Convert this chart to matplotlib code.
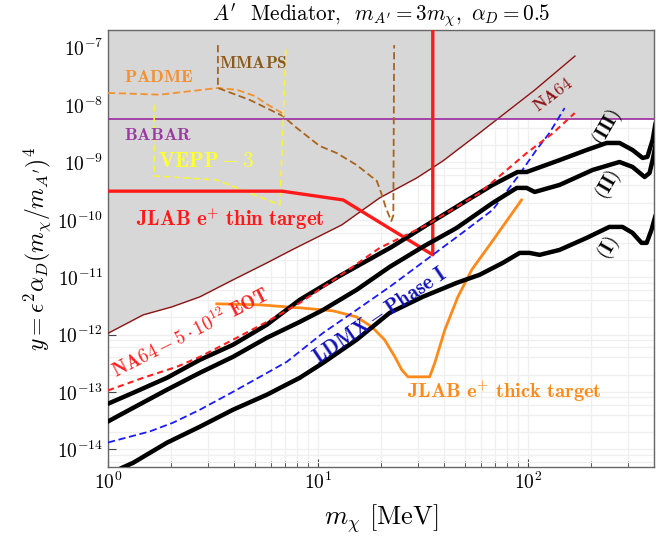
import numpy as np
import matplotlib
matplotlib.use("Agg")
import matplotlib.pyplot as plt
from matplotlib.ticker import LogLocator, NullFormatter

plt.rcParams['mathtext.fontset'] = 'cm'
plt.rcParams['font.family'] = 'serif'
plt.rcParams['font.serif'] = ['cmr10', 'DejaVu Serif']
plt.rcParams['axes.formatter.use_mathtext'] = True

# m_chi [MeV] and y values
na64_m = [1.0, 1.47, 2.02, 2.74, 3.94, 5.71, 7.52, 13.0, 19.7, 29.6, 39.4, 59.0, 108, 168]
na64_y = [1.05e-12, 2.20e-12, 3.04e-12, 4.54e-12, 8.97e-12, 1.77e-11, 2.99e-11, 8.15e-11,
          2.41e-10, 5.37e-10, 1.06e-9, 3.27e-9, 1.83e-8, 7.16e-8]

babar_m = [1.0, 400]
babar_y = [5.7e-9, 5.7e-9]

padme_m = [1.0, 1.77, 3.34, 4.11, 5.01, 5.71, 6.75]
padme_y = [1.63e-8, 1.52e-8, 1.99e-8, 1.85e-8, 1.44e-8, 1.04e-8, 7.28e-9]

mmaps_m = [3.34, 3.34, 4.74, 6.81, 7.94, 10.2, 12.3, 15.3, 19.1, 20.2, 21.1, 22.4, 22.9, 23.1]
mmaps_y = [1.11e-7, 1.99e-8, 1.23e-8, 6.46e-9, 3.99e-9, 1.94e-9, 1.46e-9, 9.04e-10,
           4.76e-10, 2.72e-10, 1.61e-10, 9.5e-11, 1.2e-10, 1.11e-7]

vepp_m = [1.66, 1.66, 3.30, 6.59, 7.05]
vepp_y = [1.0e-8, 5.82e-10, 4.95e-10, 1.82e-10, 9.89e-8]

thin_m = [1.0, 6.75, 13.2, 35.3, 35.3]
thin_y = [3.16e-10, 3.16e-10, 2.22e-10, 2.45e-11, 3e-7]

thick_m = [3.30, 5.30, 8.20, 11.8, 15.3, 18.1, 20.8, 23.3, 25.1, 26.9, 34.1, 36.1, 40.3,
           46.5, 54.1, 65.9, 93.5]
thick_y = [3.43e-12, 3.29e-12, 2.92e-12, 2.59e-12, 2.03e-12, 1.36e-12, 8.09e-13, 4.08e-13,
           2.43e-13, 1.83e-13, 1.83e-13, 3.21e-13, 1.21e-12, 4.54e-12, 1.34e-11, 3.65e-11, 2.22e-10]

eot_m = [1.0, 1.47, 2.13, 2.74, 3.94, 5.71, 8.20, 12.7, 19.7, 33.0, 59.0, 98.9, 132, 167.5]
eot_y = [1.06e-13, 1.76e-13, 2.74e-13, 4.08e-13, 8.09e-13, 1.66e-12, 3.56e-12, 1.05e-11,
         3.23e-11, 8.13e-11, 2.93e-10, 1.46e-9, 3.25e-9, 7.26e-9]

ldmx_m = [1.0, 1.58, 2.04, 2.74, 3.94, 5.30, 7.11, 10.6, 15.3, 22.0, 35.3, 47.4, 68.1,
          89.5, 110, 127, 150]
ldmx_y = [1.31e-14, 2.04e-14, 2.90e-14, 4.88e-14, 1.0e-13, 1.83e-13, 3.34e-13, 1.07e-12,
          2.69e-12, 6.78e-12, 2.45e-11, 5.46e-11, 1.49e-10, 5.58e-10, 1.65e-9, 3.27e-9, 8.89e-9]

c3_m = [1.0, 1.32, 1.91, 2.74, 3.94, 5.71, 8.20, 12.7, 22.5, 34.9, 51.8, 68.1, 89.5, 98.9,
        142, 191, 238, 274, 316, 353, 372, 394, 407]
c3_y = [6.21e-14, 9.66e-14, 1.76e-13, 3.62e-13, 6.62e-13, 1.48e-12, 4.03e-12, 1.05e-11,
        3.37e-11, 9.20e-11, 2.22e-10, 4.06e-10, 6.82e-10, 6.82e-10, 1.10e-9, 1.65e-9,
        2.19e-9, 2.19e-9, 1.65e-9, 1.20e-9, 1.25e-9, 2.47e-9, 4.88e-9]

c2_m = [1.0, 1.32, 1.91, 2.74, 3.94, 5.71, 8.20, 10.6, 15.3, 22.0, 31.6, 45.9, 68.1, 88.7,
        98.9, 108, 142, 204, 274, 316, 361, 381, 394, 407]
c2_y = [3.05e-14, 5.28e-14, 1.09e-13, 2.15e-13, 4.08e-13, 8.77e-13, 1.66e-12, 2.69e-12,
        6.01e-12, 1.51e-11, 3.37e-11, 7.23e-11, 1.97e-10, 3.60e-10, 3.60e-10, 3.06e-10,
        4.06e-10, 7.40e-10, 1.02e-9, 8.36e-10, 5.58e-10, 6.56e-10, 1.10e-9, 2.0e-9]

c1_m = [1.0, 1.17, 1.32, 1.91, 2.74, 3.94, 5.71, 8.20, 10.6, 15.3, 22.0, 31.6, 45.9, 59.0,
        76.0, 91.6, 102, 114, 142, 191, 245, 283, 316, 349, 369, 389, 407]
c1_y = [3.6e-15, 4.77e-15, 5.82e-15, 1.30e-14, 2.47e-14, 4.88e-14, 8.91e-14, 1.76e-13,
        3.21e-13, 8.09e-13, 2.39e-12, 4.54e-12, 7.96e-12, 1.10e-11, 1.77e-11, 2.65e-11,
        2.65e-11, 2.45e-11, 2.99e-11, 4.84e-11, 7.52e-11, 7.52e-11, 5.92e-11, 3.96e-11,
        3.96e-11, 6.67e-11, 1.2e-10]

y_top = 2.04e-7
y_bot = 4.9e-15

fig = plt.figure(figsize=(6.7, 5.41), dpi=100)
ax = fig.add_axes([108 / 670, 1 - 467 / 541, 546 / 670, 437 / 541])
ax.set_xscale('log')
ax.set_yscale('log')
ax.set_xlim(1, 400)
ax.set_ylim(y_bot, y_top)

gray = '#d7d7d7'
ax.fill_between(na64_m, na64_y, y_top, color=gray, lw=0, zorder=1)
ax.fill_between(babar_m, babar_y, y_top, color=gray, lw=0, zorder=1)

ax.plot(na64_m, na64_y, color='#8e1414', lw=1.0, zorder=3)
ax.plot(babar_m, babar_y, color='#9a2a9e', lw=1.2, zorder=3)
ax.plot(padme_m, padme_y, color='#f39030', lw=1.3, dashes=(4, 2), zorder=3)
ax.plot(mmaps_m, mmaps_y, color='#a8641e', lw=1.3, dashes=(4, 2), zorder=3)
ax.plot(vepp_m, vepp_y, color='#f7f23a', lw=1.2, dashes=(4, 2), zorder=3)
ax.plot(thin_m, thin_y, color='#ff1a1a', lw=2.4, zorder=4)
ax.plot(thick_m, thick_y, color='#ff8a1a', lw=2.0, zorder=4)
ax.plot(ldmx_m, ldmx_y, color='#1a1aff', lw=1.3, dashes=(4, 2), zorder=4)
for cm, cy in [(c1_m, c1_y), (c2_m, c2_y), (c3_m, c3_y)]:
    ax.plot(cm, cy, color='black', lw=3.2, solid_capstyle='round', zorder=5)
ax.plot(eot_m, eot_y, color='#ff2020', lw=1.5, dashes=(3, 2), zorder=6)

# grid like the original (minor y grid at 2,4,6,8)
ax.set_axisbelow(True)
ax.xaxis.set_minor_locator(LogLocator(base=10, subs=np.arange(2, 10)))
ax.yaxis.set_minor_locator(LogLocator(base=10, subs=(2, 4, 6, 8), numticks=30))
ax.yaxis.set_major_locator(LogLocator(base=10, numticks=30))
ax.xaxis.set_minor_formatter(NullFormatter())
ax.yaxis.set_minor_formatter(NullFormatter())
ax.grid(True, which='both', color='#efefef', lw=0.9, zorder=0)
ax.tick_params(which='both', direction='in', colors='#444444', labelcolor='black',
               labelsize=14, top=False, right=False)
ax.tick_params(which='major', length=6)
ax.tick_params(axis='x', which='minor', length=4)
ax.tick_params(axis='y', which='minor', length=0)
for s in ax.spines.values():
    s.set_color('#666666')
    s.set_linewidth(1.0)

ax.set_title(r"$A^\prime$  Mediator,  $m_{A^\prime}=3m_\chi,\ \alpha_D=0.5$", fontsize=15.3, pad=5)
ax.set_xlabel(r"$m_\chi$ [MeV]", fontsize=19, labelpad=6)
ax.set_ylabel(r"$y=\epsilon^2\alpha_D(m_\chi/m_{A^\prime})^4$", fontsize=17, labelpad=3)

def lab(fx, fy, s, c, size=11, rot=0):
    ax.text(fx, fy, s, color=c, fontsize=size, rotation=rot, ha='center', va='center',
            rotation_mode='anchor', transform=ax.transAxes, zorder=7)

lab(0.093, 0.892, r"$\mathbf{PADME}$", '#f39030', size=13)
lab(0.267, 0.924, r"$\mathbf{MMAPS}$", '#8b5a1a', size=12.5)
lab(0.0925, 0.760, r"$\mathbf{BABAR}$", '#9a3aa0', size=13)
lab(0.179, 0.700, r"$\mathbf{VEPP-3}$", '#ffff33', size=15.5)
lab(0.225, 0.5675, r"$\mathbf{JLAB\ e^{+}\ thin\ target}$", '#ff1a1a', size=15)
lab(0.150, 0.307, r"$\mathbf{NA64-5\cdot10^{12}\ EOT}$", '#ff2020', size=13.8, rot=27)
lab(0.498, 0.346, r"$\mathbf{LDMX-Phase\ I}$", '#1010b8', size=15, rot=34)
lab(0.726, 0.172, r"$\mathbf{JLAB\ e^{+}\ thick\ target}$", '#ff8a1a', size=14.8)
lab(0.815, 0.851, r"$\mathbf{NA64}$", '#8e1414', size=12.5, rot=37)
lab(0.914, 0.778, r"$\mathbf{(III)}$", 'black', size=14, rot=60)
lab(0.916, 0.645, r"$\mathbf{(II)}$", 'black', size=14, rot=60)
lab(0.916, 0.501, r"$\mathbf{(I)}$", 'black', size=14, rot=60)

fig.savefig('out.png', dpi=100)
